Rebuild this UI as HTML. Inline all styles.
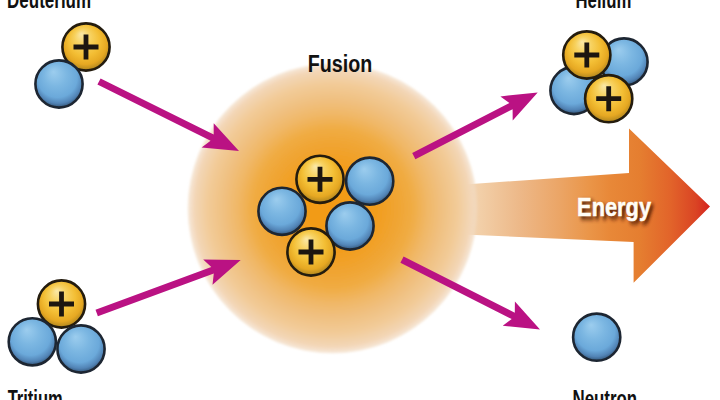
<!DOCTYPE html>
<html><head><meta charset="utf-8"><style>
html,body{margin:0;padding:0;background:#fff;width:720px;height:400px;overflow:hidden}
svg{display:block}
text{font-family:"Liberation Sans",sans-serif;font-weight:bold}
</style></head><body>
<svg width="720" height="400" viewBox="0 0 720 400">
<defs>
<radialGradient id="pg" cx="50%" cy="45%" r="56%" fx="40%" fy="22%">
<stop offset="0" stop-color="#FAE8A8"/><stop offset="0.3" stop-color="#F7D260"/><stop offset="0.6" stop-color="#F3BE34"/><stop offset="0.82" stop-color="#E6A822"/><stop offset="0.93" stop-color="#C09020"/><stop offset="1" stop-color="#6A5212"/>
</radialGradient>
<radialGradient id="ng" cx="50%" cy="42%" r="60%" fx="38%" fy="24%">
<stop offset="0" stop-color="#9CCDEE"/><stop offset="0.4" stop-color="#7CB7E2"/><stop offset="0.7" stop-color="#6BA9DA"/><stop offset="0.86" stop-color="#5284B6"/><stop offset="1" stop-color="#2C4A68"/>
</radialGradient>
<radialGradient id="glow" cx="332.5" cy="208.5" r="145" gradientUnits="userSpaceOnUse"><stop offset="0" stop-color="#F39A12" stop-opacity="1"/><stop offset="0.3" stop-color="#F29D1E" stop-opacity="1"/><stop offset="0.47" stop-color="#F0A636" stop-opacity="1"/><stop offset="0.55" stop-color="#F0AC44" stop-opacity="1"/><stop offset="0.65" stop-color="#F0B766" stop-opacity="1"/><stop offset="0.75" stop-color="#F0C080" stop-opacity="1"/><stop offset="0.86" stop-color="#F2CB98" stop-opacity="1"/><stop offset="0.95" stop-color="#F3D6B6" stop-opacity="1"/><stop offset="0.985" stop-color="#F2DAC0" stop-opacity="0.75"/><stop offset="1" stop-color="#F2DAC0" stop-opacity="0.4"/></radialGradient>
<linearGradient id="eg" x1="440" y1="0" x2="712" y2="0" gradientUnits="userSpaceOnUse">
<stop offset="0" stop-color="#F3D8BC"/><stop offset="0.11" stop-color="#F2D4B2"/><stop offset="0.147" stop-color="#F2CFA8"/><stop offset="0.294" stop-color="#EDB888"/><stop offset="0.44" stop-color="#EBA566"/><stop offset="0.55" stop-color="#EA9548"/><stop offset="0.625" stop-color="#E88838"/><stop offset="0.735" stop-color="#E57E30"/><stop offset="0.846" stop-color="#E2642A"/><stop offset="0.94" stop-color="#DA4424"/><stop offset="1" stop-color="#D41E1E"/>
</linearGradient>
<filter id="soft" x="-10%" y="-10%" width="120%" height="120%"><feGaussianBlur stdDeviation="1.3"/></filter>
<filter id="tsh" x="-20%" y="-30%" width="140%" height="160%"><feGaussianBlur stdDeviation="2"/></filter>
</defs>
<polygon points="440,186.2 629,173 629,128.4 710,206.5 633.6,282.75 633.6,242 440,233.4" fill="url(#eg)"/>
<circle cx="332.5" cy="208.5" r="145" fill="url(#glow)" filter="url(#soft)"/>
<text transform="translate(579.77,218.60) scale(0.8395,1)" font-size="26" fill="#4a1806" opacity="0.9" filter="url(#tsh)" stroke="#4a1806" stroke-width="0.8">Energy</text>
<text transform="translate(577.07,215.60) scale(0.8395,1)" font-size="26" fill="#FFFDF6" stroke="#FFFDF6" stroke-width="0.5">Energy</text>
<polygon points="97.4,84.6 210.6,140.8 201.6,147.5 239.0,151.0 213.7,123.3 213.7,134.5 100.6,78.4" fill="#BA1283"/>
<polygon points="97.9,316.3 213.8,273.6 212.5,284.8 240.7,260.0 203.2,259.4 211.3,267.1 95.5,309.7" fill="#BA1283"/>
<polygon points="415.4,159.2 512.6,109.2 512.7,120.4 537.7,92.4 500.4,96.4 509.4,103.0 412.2,153.0" fill="#BA1283"/>
<polygon points="400.4,262.7 511.7,319.1 502.7,325.7 540.0,329.5 514.9,301.6 514.8,312.8 403.6,256.5" fill="#BA1283"/>
<circle cx="86" cy="47" r="23.6" fill="url(#pg)" stroke="#241c0e" stroke-width="2.6"/><path d="M73.5,47H98.5M86,34.5V59.5" stroke="#1c1610" stroke-width="4.8"/><circle cx="59" cy="84" r="23.6" fill="url(#ng)" stroke="#1d2632" stroke-width="2.6"/>
<circle cx="61.5" cy="304" r="23.6" fill="url(#pg)" stroke="#241c0e" stroke-width="2.6"/><path d="M49.0,304H74.0M61.5,291.5V316.5" stroke="#1c1610" stroke-width="4.8"/><circle cx="32.3" cy="341.8" r="23.6" fill="url(#ng)" stroke="#1d2632" stroke-width="2.6"/><circle cx="81" cy="349" r="23.6" fill="url(#ng)" stroke="#1d2632" stroke-width="2.6"/>
<circle cx="369.7" cy="181.2" r="23.6" fill="url(#ng)" stroke="#1d2632" stroke-width="2.6"/><circle cx="320" cy="179.3" r="23.6" fill="url(#pg)" stroke="#241c0e" stroke-width="2.6"/><path d="M307.5,179.3H332.5M320,166.8V191.8" stroke="#1c1610" stroke-width="4.8"/><circle cx="282" cy="211.3" r="23.6" fill="url(#ng)" stroke="#1d2632" stroke-width="2.6"/><circle cx="350" cy="226" r="23.6" fill="url(#ng)" stroke="#1d2632" stroke-width="2.6"/><circle cx="311" cy="252" r="23.6" fill="url(#pg)" stroke="#241c0e" stroke-width="2.6"/><path d="M298.5,252H323.5M311,239.5V264.5" stroke="#1c1610" stroke-width="4.8"/>
<circle cx="624" cy="62" r="23.6" fill="url(#ng)" stroke="#1d2632" stroke-width="2.6"/><circle cx="574" cy="90.5" r="23.6" fill="url(#ng)" stroke="#1d2632" stroke-width="2.6"/><circle cx="586.8" cy="55" r="23.6" fill="url(#pg)" stroke="#241c0e" stroke-width="2.6"/><path d="M574.3,55H599.3M586.8,42.5V67.5" stroke="#1c1610" stroke-width="4.8"/><circle cx="608.7" cy="98.7" r="23.6" fill="url(#pg)" stroke="#241c0e" stroke-width="2.6"/><path d="M596.2,98.7H621.2M608.7,86.2V111.2" stroke="#1c1610" stroke-width="4.8"/>
<circle cx="596.7" cy="337.2" r="23.6" fill="url(#ng)" stroke="#1d2632" stroke-width="2.6"/>
<text transform="translate(7.11,7.80) scale(0.7228,1)" font-size="23.5" fill="#111" >Deuterium</text>
<text transform="translate(7.63,407.20) scale(0.7036,1)" font-size="23.5" fill="#111" >Tritium</text>
<text transform="translate(307.72,71.90) scale(0.8521,1)" font-size="23.1" fill="#111" >Fusion</text>
<text transform="translate(575.53,7.80) scale(0.7128,1)" font-size="23.5" fill="#111" >Helium</text>
<text transform="translate(572.52,407.20) scale(0.7177,1)" font-size="23.5" fill="#111" >Neutron</text>
</svg>
</body></html>
